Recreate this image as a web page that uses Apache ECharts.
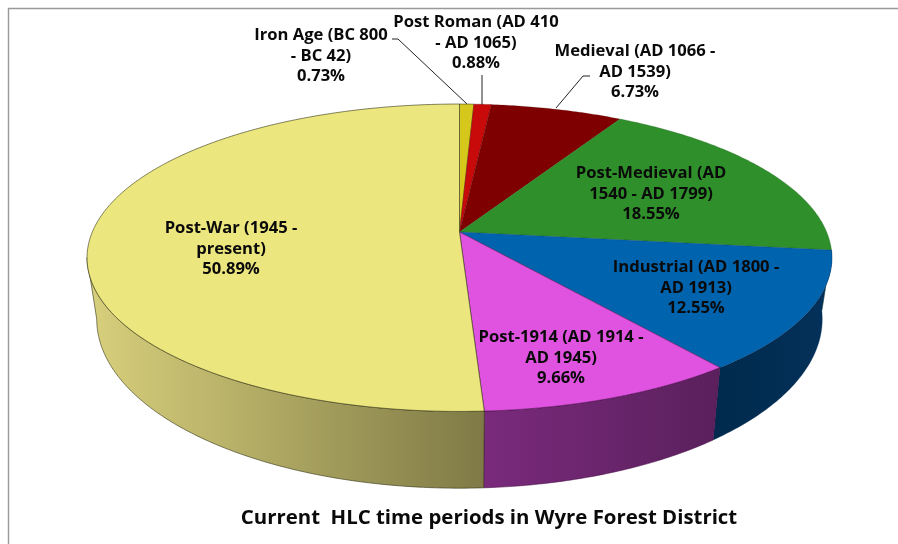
<!DOCTYPE html>
<html><head><meta charset="utf-8">
<style>html,body{margin:0;padding:0;background:#fff}#c{width:898px;height:544px}</style>
<script src="https://cdn.jsdelivr.net/npm/echarts@6/dist/echarts.min.js"></script>
</head><body><div id="c"></div>
<script>
const categories = ['Iron Age (BC 800\n- BC 42)','Post Roman (AD 410\n- AD 1065)','Medieval (AD 1066 -\nAD 1539)','Post-Medieval (AD\n1540 - AD 1799)','Industrial (AD 1800 -\nAD 1913)','Post-1914 (AD 1914 -\nAD 1945)','Post-War (1945 -\npresent)'];
const values = [0.73,0.88,6.73,18.55,12.55,9.66,50.89];
const titleText = 'Current  HLC time periods in Wyre Forest District';

const topColors = ['#d6c71c','#c80a0a','#7e0000','#2f8f2a','#0063ad','#e052e0','#ece67e'];
const sideStops = [
  ['#8a7f10','#8a7f10'],['#700505','#700505'],['#4a0000','#4a0000'],['#1a5018','#1a5018'],
  ['#04315a','#002a4d'],['#7a2a7c','#5a205c'],['#d8d07c','#7f7a46']
];
const edgeColors = ['rgba(60,55,20,.7)','rgba(90,0,0,.4)','rgba(60,0,0,.2)','rgba(20,80,20,.3)','rgba(0,40,90,.3)','rgba(70,10,70,.7)','rgba(50,50,20,.75)'];
const labelPos = [[321,56],[476,43],[635,72],[651,194],[696,288],[561,358],[231,249]];

// projection of the pie's circular top and base
const G = {cx:459.5, cy:232, rx:367.2, ry:149.4, k:0.1674, baseF:0.974, baseCy:290.8, baseRyF:1.1};
const total = values.reduce((a,b)=>a+b,0);
function bounds(i){
  let a=0; for(let j=0;j<i;j++) a+=values[j];
  return [a/total*2*Math.PI,(a+values[i])/total*2*Math.PI];
}
function proj(t,isBase){
  const u=Math.sin(t), v=-Math.cos(t), s=1/(1-G.k*v);
  return isBase ? [G.cx+G.baseF*G.rx*u*s, G.baseCy+G.baseRyF*G.ry*v*s]
                : [G.cx+G.rx*u*s, G.cy+G.ry*v*s];
}
function arc(a,b,isBase){
  const n=Math.max(2,Math.ceil(Math.abs(b-a)/0.01)), p=[];
  for(let i=0;i<=n;i++) p.push(proj(a+(b-a)*i/n,isBase));
  return p;
}
const tanA=Math.acos(-G.k), tanB=2*Math.PI-tanA;

function renderSide(params){
  const i=params.dataIndex; let [a,b]=bounds(i);
  a=Math.max(a,tanA-0.05); b=Math.min(b,tanB);
  if(b<=a) return {type:'group',children:[]};
  const pts=arc(a,b,false).concat(arc(b,a,true));
  const rev=i===4;
  return {type:'polygon',shape:{points:pts},style:{
    fill:new echarts.graphic.LinearGradient(0,0,1,0,[{offset:0,color:sideStops[i][rev?1:0]},{offset:1,color:sideStops[i][rev?0:1]}]),
    stroke:edgeColors[i],lineWidth:0.8}};
}
function renderTop(params){
  const i=params.dataIndex, [a,b]=bounds(i);
  const pts=[[G.cx,G.cy]].concat(arc(a,b,false));
  return {type:'polygon',shape:{points:pts},style:{fill:topColors[i],stroke:edgeColors[i],lineWidth:0.8}};
}
function renderLabel(params){
  const i=params.dataIndex;
  return {type:'text',x:labelPos[i][0],y:labelPos[i][1],style:{
    text:categories[i]+'\n'+values[i].toFixed(2)+'%',
    font:'bold 16.6px "Open Sans"',fill:'#0a0a0a',align:'center',verticalAlign:'middle',lineHeight:20.5}};
}
const line=(pts,c,w)=>({type:'polyline',shape:{points:pts},style:{stroke:c,lineWidth:w,fill:null},silent:true});
const chart=echarts.init(document.getElementById('c'),null,{renderer:'canvas'});
const seed=values.map((v,i)=>[i,v]);
chart.setOption({
  animation:false,
  backgroundColor:'#fff',
  title:{text:titleText,left:484,top:513,textAlign:'center',textVerticalAlign:'middle',
    textStyle:{fontFamily:'Open Sans',fontWeight:'bold',fontSize:20.4,color:'#0a0a0a'}},
  graphic:[
    line([[8.5,544],[8.5,8.5],[898,8.5]],'#999',1.4),
    line([[392,39],[398,39],[467,104]],'#222',1),
    line([[482,75],[482,105]],'#222',1),
    line([[590,76],[583,76],[556,108]],'#222',1)
  ],
  series:[
    {type:'custom',coordinateSystem:'none',data:seed,renderItem:renderSide,silent:true,z:1},
    {type:'custom',coordinateSystem:'none',data:seed,renderItem:renderTop,silent:true,z:2},
    {type:'custom',coordinateSystem:'none',data:seed,renderItem:renderLabel,silent:true,z:3}
  ]
});
</script></body></html>
